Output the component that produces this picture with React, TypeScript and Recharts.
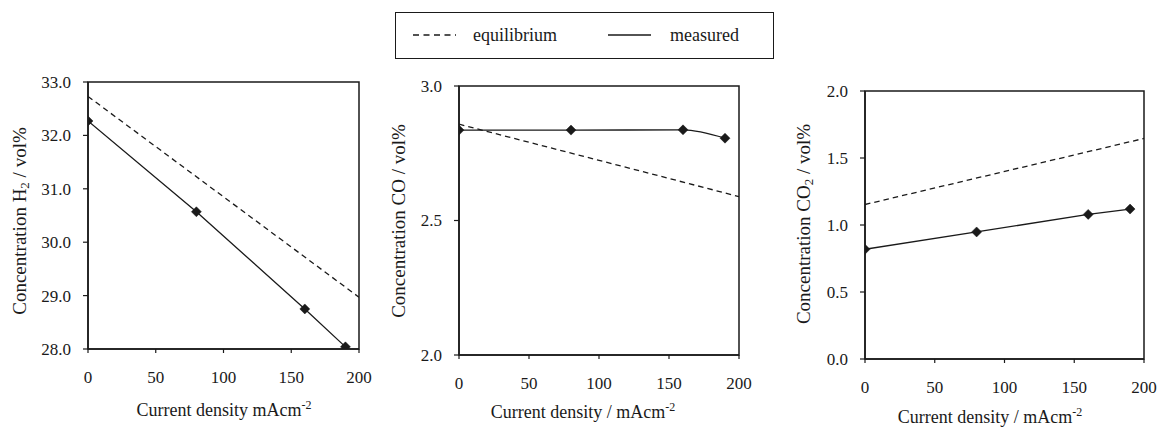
import React from 'react';
import { LineChart, Line, XAxis, YAxis, ReferenceArea, Label, Legend } from 'recharts';

// ---- data ----
const currentDensity = [0, 80, 160, 190];
const eqDensity = [0, 200];
const h2Measured = [32.27, 30.57, 28.75, 28.04];
const h2Equilibrium = [32.73, 28.97];
const coMeasured = [2.836, 2.836, 2.837, 2.806];
const coEquilibrium = [2.858, 2.589];
const co2Measured = [0.819, 0.948, 1.079, 1.119];
const co2Equilibrium = [1.153, 1.646];
const xTicks = [0, 50, 100, 150, 200];
const h2Ticks = [28, 29, 30, 31, 32, 33];
const coTicks = [2.0, 2.5, 3.0];
const co2Ticks = [0, 0.5, 1.0, 1.5, 2.0];
const seriesNames = ['equilibrium', 'measured'];

const W = 1162;
const H = 427;
const FONT = "'Liberation Serif', 'Times New Roman', serif";
const INK = '#1a1a1a';

type PanelCfg = {
  left: number; right: number; top: number; bottom: number;
  domain: [number, number]; ticks: number[];
  measured: number[]; eq: number[];
  curve: 'linear' | 'monotone';
  yLabelX: number; yLabelCY: number; yGas: string; ySub?: string;
  xLabel: string; xLabelCX: number; xLabelBase: number;
  legend?: boolean;
};

const panels: PanelCfg[] = [
  {
    left: 88, right: 359, top: 82, bottom: 349,
    domain: [28, 33], ticks: h2Ticks, measured: h2Measured, eq: h2Equilibrium, curve: 'linear',
    yLabelX: 19, yLabelCY: 221, yGas: 'H', ySub: '2',
    xLabel: 'Current density mAcm', xLabelCX: 224, xLabelBase: 416,
  },
  {
    left: 459, right: 739, top: 86, bottom: 355,
    domain: [2, 3], ticks: coTicks, measured: coMeasured, eq: coEquilibrium, curve: 'monotone',
    yLabelX: 398, yLabelCY: 221, yGas: 'CO',
    xLabel: 'Current density / mAcm', xLabelCX: 583, xLabelBase: 418, legend: true,
  },
  {
    left: 865, right: 1144, top: 91, bottom: 359,
    domain: [0, 2], ticks: co2Ticks, measured: co2Measured, eq: co2Equilibrium, curve: 'linear',
    yLabelX: 803, yLabelCY: 224, yGas: 'CO', ySub: '2',
    xLabel: 'Current density / mAcm', xLabelCX: 990, xLabelBase: 423,
  },
];

const Diamond = (props: any) => {
  const { cx, cy, index } = props;
  if (cx == null || cy == null) return <g key={`d-${index}`} />;
  const r = 5;
  return (
    <polygon
      key={`d-${index}`}
      points={`${cx},${cy - r} ${cx + r},${cy} ${cx},${cy + r} ${cx - r},${cy}`}
      fill={INK}
      stroke={INK}
      strokeWidth={0.5}
    />
  );
};

const XTick = (props: any) => {
  const { x, y, payload } = props;
  return (
    <text x={x} y={y} dy="0.71em" textAnchor="middle" fontFamily={FONT} fontSize={17} fill={INK}>
      {String(payload.value)}
    </text>
  );
};

const YTick = (props: any) => {
  const { x, y, payload } = props;
  return (
    <text x={x} y={y} dy="0.35em" textAnchor="end" fontFamily={FONT} fontSize={17} fill={INK}>
      {Number(payload.value).toFixed(1)}
    </text>
  );
};

const LegendBox = (props: any) => {
  const payload = (props && props.payload) || [];
  const lefts = [17, 212];
  return (
    <div
      style={{
        position: 'relative', width: 379, height: 47, boxSizing: 'border-box',
        border: `1.5px solid ${INK}`, background: '#fff', fontFamily: FONT, fontSize: 18, color: INK,
      }}
    >
      {payload.map((entry: any, i: number) => {
        const dashed = entry.value === seriesNames[0];
        return (
          <div
            key={entry.value}
            style={{ position: 'absolute', left: lefts[i] ?? 17 + i * 195, top: 0, height: 44, display: 'flex', alignItems: 'center' }}
          >
            <svg width={43} height={6} style={{ display: 'block' }}>
              <line x1={0} y1={3} x2={43} y2={3} stroke={INK} strokeWidth={1.3} strokeDasharray={dashed ? '6 4.5' : undefined} />
            </svg>
            <span style={{ marginLeft: dashed ? 17 : 19, lineHeight: '20px', fontFamily: FONT, fontSize: 18 }}>{entry.value}</span>
          </div>
        );
      })}
    </div>
  );
};

const yAxisW = 60;
const xAxisH = 30;

const Panel = ({ cfg }: { cfg: PanelCfg }) => {
  const margin = {
    left: cfg.left - yAxisW,
    right: W - cfg.right,
    top: cfg.top,
    bottom: H - cfg.bottom - xAxisH,
  };
  const eqData = eqDensity.map((x, i) => ({ x, y: cfg.eq[i] }));
  const msData = currentDensity.map((x, i) => ({ x, y: cfg.measured[i] }));
  return (
    <div style={{ position: 'absolute', left: 0, top: 0 }}>
      <LineChart width={W} height={H} margin={margin}>
        <XAxis
          type="number" dataKey="x" domain={[0, 200]} ticks={xTicks} allowDataOverflow
          height={xAxisH} tick={XTick} tickSize={4} tickMargin={18}
          axisLine={{ stroke: INK, strokeWidth: 1.5 }} tickLine={{ stroke: INK, strokeWidth: 1.2 }}
        >
          <Label
            content={() => (
              <text x={cfg.xLabelCX} y={cfg.xLabelBase} textAnchor="middle" fontFamily={FONT} fontSize={18} fill={INK}>
                {cfg.xLabel}
                <tspan dy={-7} fontSize={12}>-2</tspan>
              </text>
            )}
          />
        </XAxis>
        <YAxis
          type="number" dataKey="y" domain={cfg.domain} ticks={cfg.ticks} allowDataOverflow
          width={yAxisW} tick={YTick} tickSize={5} tickMargin={12}
          axisLine={{ stroke: INK, strokeWidth: 1.5 }} tickLine={{ stroke: INK, strokeWidth: 1.2 }}
        >
          <Label
            content={() => (
              <text
                x={0} y={0}
                transform={`translate(${cfg.yLabelX},${cfg.yLabelCY}) rotate(-90)`}
                textAnchor="middle" dominantBaseline="central"
                fontFamily={FONT} fontSize={19} fill={INK}
              >
                {`Concentration ${cfg.yGas}`}
                {cfg.ySub ? <tspan dy={5} fontSize={13}>{cfg.ySub}</tspan> : null}
                {cfg.ySub ? <tspan dy={-5}>{' / vol%'}</tspan> : <tspan>{' / vol%'}</tspan>}
              </text>
            )}
          />
        </YAxis>
        <ReferenceArea
          x1={0} x2={200} y1={cfg.domain[0]} y2={cfg.domain[1]}
          fill="none" fillOpacity={0} stroke={INK} strokeWidth={1.5} ifOverflow="visible"
        />
        <Line
          data={eqData} dataKey="y" name={seriesNames[0]} type="linear"
          stroke={INK} strokeWidth={1.3} strokeDasharray="5.5 4" dot={false} activeDot={false}
          isAnimationActive={false}
        />
        <Line
          data={msData} dataKey="y" name={seriesNames[1]} type={cfg.curve}
          stroke={INK} strokeWidth={1.3} dot={Diamond} activeDot={false}
          isAnimationActive={false}
        />
        {cfg.legend ? (
          <Legend
            layout="horizontal" verticalAlign="middle" align="center"
            content={LegendBox}
            wrapperStyle={{ position: 'absolute', left: 395, top: 12, width: 379, height: 47 }}
          />
        ) : null}
      </LineChart>
    </div>
  );
}

export default function App() {
  return (
    <div style={{ position: 'absolute', left: 0, top: 0, width: W, height: H, background: '#fff' }}>
      {panels.map((p, i) => (
        <Panel key={i} cfg={p} />
      ))}
    </div>
  );
}
